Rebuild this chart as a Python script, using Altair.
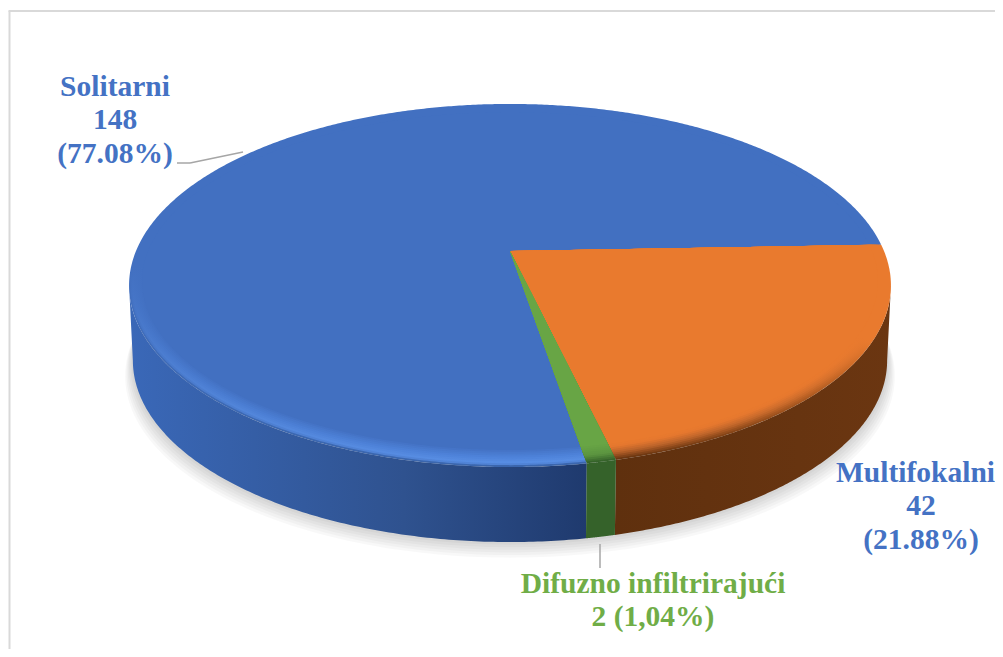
import numpy as np
import altair as alt

# ---- data ----
categories = ["Multifokalni", "Difuzno infiltrirajući", "Solitarni"]
counts = [42, 2, 148]
label_lines = {
    "Solitarni": ["Solitarni", "148", "(77.08%)"],
    "Multifokalni": ["Multifokalni", "42", "(21.88%)"],
    "Difuzno infiltrirajući": ["Difuzno infiltrirajući", "2 (1,04%)"],
}

# ---- geometry of the tilted disc (page pixels minus the 8px margin) ----
W, H = 987, 641
OX, OY = 8, 8
CX, CY = 510 - OX, 251 - OY      # apex of the slices
A, B, K = 374.0, 175.0, 0.19     # perspective disc
START = 2.1                      # first slice edge, degrees
DEPTH = 75.0
SCALE_BOTTOM = 0.99
SU, SV = 0.968, 0.935            # inner edge of the bevel
SIDE = np.degrees(np.arcsin(K))  # where the rim is widest


def proj(u, v):
    w = 1 + K * v
    return CX + A * u / w, CY - B * v / w


def rim(th, t=0.0):
    su, sv = 1 - t * (1 - SU), 1 - t * (1 - SV)
    c, s = np.cos(th), np.sin(th)
    r = 1 / np.sqrt((c / su) ** 2 + (s / sv) ** 2)
    return proj(r * c, r * s)


def feature(xs, ys):
    ring = [[float(x), float(y)] for x, y in zip(xs, ys)]
    ring.append(ring[0])
    return {"type": "Feature", "properties": {},
            "geometry": {"type": "Polygon", "coordinates": [ring]}}


PROJ = alt.Projection(type="identity", scale=1, translate=[0, 0])


def shape(xs, ys, **kw):
    return alt.Chart(alt.Data(values=[feature(xs, ys)])).mark_geoshape(**kw).project(**PROJ.to_dict())


def grad(stops, vertical=False):
    return alt.Gradient(
        gradient="linear",
        stops=[alt.GradientStop(color=c, offset=o) for o, c in stops],
        x1=0, y1=0, x2=0 if vertical else 1, y2=1 if vertical else 0,
    )


def hexmix(c1, c2, f):
    a = [int(c1[i:i + 2], 16) for i in (1, 3, 5)]
    b = [int(c2[i:i + 2], 16) for i in (1, 3, 5)]
    return "#" + "".join(f"{round(x + (y - x) * f):02x}" for x, y in zip(a, b))


# slice angles from the counts (clockwise from START)
total = sum(counts)
edges = [START]
for c in counts:
    edges.append(edges[-1] - 360.0 * c / total)
ang = {n: (edges[i], edges[i + 1]) for i, n in enumerate(categories)}

layers = []

# soft shadow
allth = np.radians(np.linspace(0, 360, 361))
bx, by = rim(allth)
for i in range(1, 7):
    ex, ey = 1 + i * 1.3 / 381, i * 2.6
    layers.append(shape(CX + (bx - CX) * SCALE_BOTTOM * ex, by + DEPTH + ey,
                        fill="#000000", fillOpacity=0.028))


def wall(a0, a1, fill):
    th = np.radians(np.linspace(a0, a1, 160))
    x, y = rim(th)
    x2 = CX + (x - CX) * SCALE_BOTTOM
    y2 = y + DEPTH
    return shape(np.r_[x, x2[::-1]], np.r_[y, y2[::-1]], fill=fill)


n_or, n_gr, n_bl = categories
layers.append(wall(-SIDE, ang[n_or][1], grad([(0, "#5f300e"), (1, "#6b3611")])))
layers.append(wall(ang[n_bl][0], -180 + SIDE,
                   grad([(0, "#3a68b8"), (0.6, "#2f528f"), (1, "#1f3a6e")])))
layers.append(wall(ang[n_gr][0], ang[n_gr][1], "#35622a"))

# bevelled faces
FACE = {n_bl: "#4270c1", n_or: "#e97a2e", n_gr: "#68a545"}
PROFILE = {
    n_bl: [(0, "#3b66ad"), (0.15, "#598fe6"), (0.6, "#4c80d6"), (1, "#4270c1")],
    n_or: [(0, "#6a3611"), (0.4, "#b9622a"), (0.75, "#e4772e"), (1, "#e97a2e")],
    n_gr: [(0, "#35622a"), (0.4, "#5b9440"), (1, "#68a545")],
}


def profile(n, t):
    p = PROFILE[n]
    for (t0, c0), (t1, c1) in zip(p, p[1:]):
        if t <= t1:
            return hexmix(c0, c1, (t - t0) / (t1 - t0))
    return p[-1][1]


for n in [n_bl, n_or, n_gr]:
    a0, a1 = ang[n]
    th = np.radians(np.linspace(a0, a1, max(6, int(abs(a1 - a0) * 2))))
    for t in np.linspace(0, 1, 10):
        x, y = rim(th, t)
        xs, ys = np.r_[CX, x], np.r_[CY, y]
        if t >= 1:
            layers.append(shape(xs, ys, fill=FACE[n]))
        else:
            layers.append(shape(xs, ys, fill=grad(
                [(0, FACE[n]), (0.45, FACE[n]), (1, profile(n, t))], vertical=True)))


def rule(x1, y1, x2, y2, color, width):
    return alt.Chart(alt.Data(values=[{"a": 1}])).mark_rule(color=color, strokeWidth=width).encode(
        x=alt.value(x1 - OX), x2=alt.value(x2 - OX), y=alt.value(y1 - OY), y2=alt.value(y2 - OY))


# frame (left and top only reach the picture)
layers.append(rule(9.5, 11, 9.5, OY + H, "#d9d9d9", 2))
layers.append(rule(8.5, 11, OX + W, 11, "#d9d9d9", 2))

# leader lines
layers.append(rule(177, 163, 190, 163, "#a6a6a6", 1.5))
layers.append(rule(190, 163, 243, 152, "#a6a6a6", 1.5))
layers.append(rule(600, 544, 600, 568, "#a6a6a6", 1.5))


def text(lines, cxs, ys, color):
    out = []
    for s, cx, y in zip(lines, cxs, ys):
        out.append(alt.Chart(alt.Data(values=[{"t": s}])).mark_text(
            font="Liberation Serif", fontWeight="bold", fontSize=29.5, color=color,
            align="center", baseline="middle").encode(
            text="t:N", x=alt.value(cx - OX), y=alt.value(y - OY)))
    return out


layers += text(label_lines["Solitarni"], [115] * 3, [87, 120, 154], "#4472c4")
layers += text(label_lines["Multifokalni"], [915.5, 921, 921], [473, 506, 540], "#4472c4")
layers += text(label_lines["Difuzno infiltrirajući"], [653] * 2, [584, 617], "#70ad47")

chart = alt.layer(*layers).properties(
    width=W, height=H, padding=0, autosize=alt.AutoSizeParams(type="none")
).configure_view(stroke=None)

chart.save("out.html", embed_options={"renderer": "svg", "actions": False})
